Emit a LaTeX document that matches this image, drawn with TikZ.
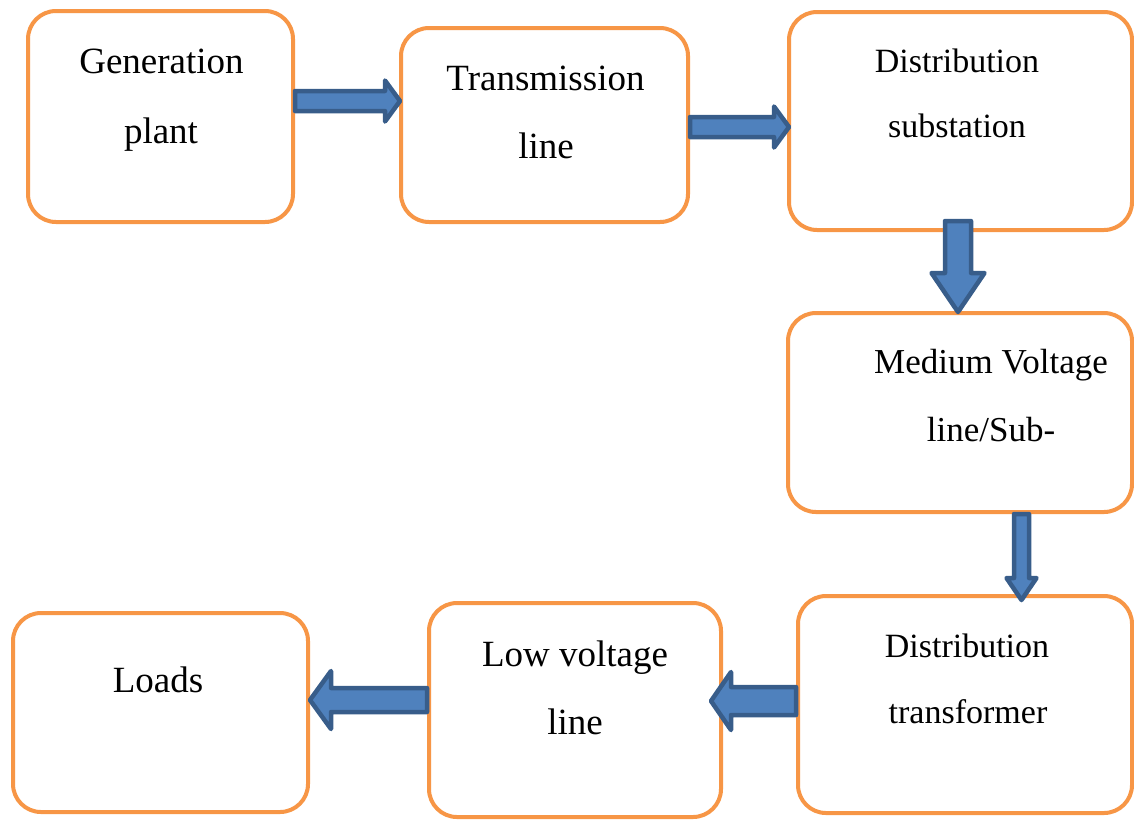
\documentclass[tikz,border=0pt]{standalone}
\usepackage{fontspec}
\setmainfont{Liberation Serif}
\usetikzlibrary{calc}
\definecolor{boxline}{HTML}{F79646}
\definecolor{arrowfill}{HTML}{4F81BD}
\definecolor{arrowline}{HTML}{385D8A}
\tikzset{
  stage/.style={draw=boxline, line width=4pt, rounded corners=28pt, fill=white, inner sep=0pt},
  lbl/.style={anchor=base, inner sep=0pt, font=\fontsize{34}{40}\selectfont},
  lblbig/.style={lbl, font=\fontsize{37}{44}\selectfont},
  blockarrow/.style={draw=arrowline, fill=arrowfill, line width=4.5pt, line join=round},
}
% horizontal block arrow: start, tip, shaft half-width, head half-width, head length (negative points left)
\newcommand{\hblock}[5]{%
  \draw[blockarrow] ($(#1)+(0,#3)$) -- ($(#2)+({-(#5)},#3)$) -- ($(#2)+({-(#5)},#4)$) -- (#2)
    -- ($(#2)+({-(#5)},-#4)$) -- ($(#2)+({-(#5)},-#3)$) -- ($(#1)+(0,-#3)$) -- cycle;}
% downward block arrow: start, tip, shaft half-width, head half-width, head length
\newcommand{\vblock}[5]{%
  \draw[blockarrow] ($(#1)+(-#3,0)$) -- ($(#2)+(-#3,-#5)$) -- ($(#2)+(-#4,-#5)$) -- (#2)
    -- ($(#2)+(#4,-#5)$) -- ($(#2)+(#3,-#5)$) -- ($(#1)+(#3,0)$) -- cycle;}
\begin{document}
\begin{tikzpicture}[x=1pt, y=-1pt]
\useasboundingbox (0,0) rectangle (1134,820);

% process stages
\node[stage, minimum width=265pt, minimum height=211pt] (gen)   at (160.5,116.5) {};
\node[stage, minimum width=287pt, minimum height=194pt] (trans) at (544.5,125)   {};
\node[stage, minimum width=343pt, minimum height=218pt] (dsub)  at (960.5,121)   {};
\node[stage, minimum width=344pt, minimum height=199pt] (mv)    at (960,412.5)   {};
\node[stage, minimum width=334pt, minimum height=217pt] (dtr)   at (965,704.5)   {};
\node[stage, minimum width=292pt, minimum height=214pt] (lv)    at (575,710)     {};
\node[stage, minimum width=295pt, minimum height=199pt] (loads) at (160.5,712.5) {};

% stage captions
\node[lblbig] (gen1)   at (161.5,73)  {Generation};
\node[lblbig] (gen2)   at (161,143)   {plant};
\node[lblbig] (trans1) at (545.5,90)  {Transmission};
\node[lblbig] (trans2) at (546,158)   {line};
\node[lbl]    (dsub1)  at (957,72)    {Distribution};
\node[lbl]    (dsub2)  at (957,137)   {substation};
\node[lbl, font=\fontsize{35}{42}\selectfont] (mv1) at (991,373) {Medium Voltage};
\node[lbl, font=\fontsize{35}{42}\selectfont] (mv2) at (991,441) {line/Sub-};
\node[lbl]    (dtr1)   at (967,657)   {Distribution};
\node[lbl]    (dtr2)   at (968,723)   {transformer};
\node[lblbig] (lv1)    at (575,666)   {Low voltage};
\node[lblbig] (lv2)    at (575,734)   {line};
\node[lblbig] (loads1) at (158,692)   {Loads};

% arrow end points
\coordinate (a1s) at (gen.east |- 0,101);
\coordinate (a1e) at ([xshift=1pt]trans.west |- 0,101);
\coordinate (a2s) at (trans.east |- 0,127);
\coordinate (a2e) at ([xshift=2pt]dsub.west |- 0,127);
\coordinate (a3s) at ([yshift=11pt]dsub.south -| 958,0);
\coordinate (a3e) at ([yshift=-1pt]mv.north -| 958,0);
\coordinate (a4s) at (mv.south -| 1021.5,0);
\coordinate (a4e) at ([yshift=-6pt]dtr.north -| 1021.5,0);
\coordinate (a5s) at (dtr.west |- 0,701);
\coordinate (a5e) at ([xshift=-12pt]lv.east |- 0,701);
\coordinate (a6s) at (lv.west |- 0,700);
\coordinate (a6e) at (loads.east |- 0,700);

% flow arrows
\hblock{a1s}{a1e}{10}{20.5}{15}
\hblock{a2s}{a2e}{10}{20.5}{15}
\vblock{a3s}{a3e}{13}{26.5}{39}
\vblock{a4s}{a4e}{7.5}{15}{22}
\hblock{a5s}{a5e}{14}{29}{-20}
\hblock{a6s}{a6e}{12}{29}{-21}
\end{tikzpicture}
\end{document}
